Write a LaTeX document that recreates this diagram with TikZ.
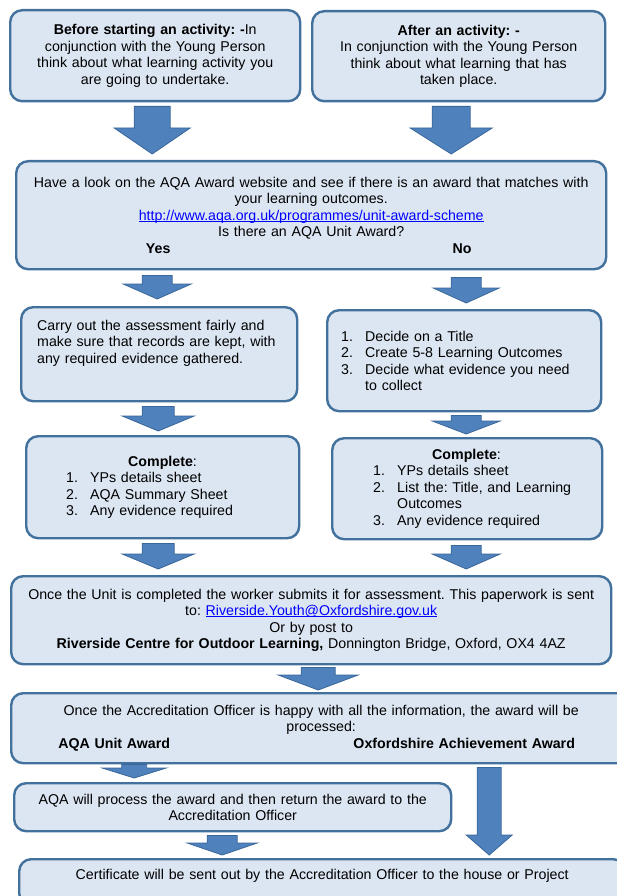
\documentclass[tikz,border=0pt]{standalone}
\usepackage{fontspec}
\setmainfont{Liberation Sans}
\usetikzlibrary{calc}
\frenchspacing

\definecolor{boxfill}{HTML}{DCE6F2}
\definecolor{boxline}{HTML}{41719C}
\definecolor{arrowfill}{HTML}{4F81BD}
\definecolor{arrowline}{HTML}{3A6799}
\definecolor{linkblue}{HTML}{0000FF}

\newlength{\numw}\setlength{\numw}{24pt}
\newsavebox{\linkbox}
\newcommand{\listnum}[1]{\makebox[\numw][l]{#1}}
\newcommand{\weblink}[1]{\leavevmode\sbox{\linkbox}{\color{linkblue}#1}{\color{linkblue}\rlap{\rule[-1.6pt]{\wd\linkbox}{0.8pt}}}\usebox{\linkbox}}
\newcommand{\blockarrow}[5]{%
  \filldraw[blockarr] let \p1=(#1), \p2=(#2) in
    (\x1-#3pt,\y1) -- (\x1+#3pt,\y1) -- (\x1+#3pt,\y2+#5pt) -- (\x1+#4pt,\y2+#5pt)
    -- (\x1,\y2) -- (\x1-#4pt,\y2+#5pt) -- (\x1-#3pt,\y2+#5pt) -- cycle;}

\tikzset{
  flowbox/.style={draw=boxline, fill=boxfill, line width=2.4pt, rounded corners=12pt,
    anchor=north west, inner xsep=6pt, inner ysep=2pt, align=center,
    font=\fontsize{14.2}{16.5}\selectfont},
  blockarr/.style={fill=arrowfill, draw=arrowline, line width=0.8pt, line join=miter}
}

\begin{document}
\begin{tikzpicture}[x=1pt,y=-1pt]
            \fill[white] (0,0) rectangle (616,896);
            \useasboundingbox (0,0) rectangle (616,896);

            \node[flowbox, minimum width=290pt, minimum height=91pt, text width=278pt] (before) at (9,9)
                {\textbf{Before starting an activity: -}In\\ conjunction with the Young Person\\ think about what learning activity you\\ are going to undertake.};
            \node[flowbox, minimum width=293pt, minimum height=90pt, text width=281pt] (after) at (311,10)
                {\textbf{After an activity: -}\\ In conjunction with the Young Person\\ think about what learning that has\\ taken place.};
            \node[flowbox, minimum width=590pt, minimum height=108pt, text width=578pt] (check) at (15,160)
                {Have a look on the AQA Award website and see if there is an award that matches with\\ your learning outcomes.\\
                 \weblink{http://www.aqa.org.uk/programmes/unit-award-scheme}\\ Is there an AQA Unit Award?\\
                 \makebox[578pt][l]{\hspace*{136pt}\makebox[0pt]{\textbf{Yes}}\hspace*{304pt}\makebox[0pt]{\textbf{No}}}};

            \node[flowbox, align=left, inner xsep=16pt, minimum width=276pt, minimum height=94pt, text width=244pt] (assess) at (20,306)
                {Carry out the assessment fairly and\\ make sure that records are kept, with\\ any required evidence gathered.\\[9pt]\mbox{}};
            \node[flowbox, align=left, inner xsep=14pt, minimum width=274pt, minimum height=101pt, text width=246pt] (plan) at (326,309)
                {\listnum{1.}Decide on a Title\\ \listnum{2.}Create 5-8 Learning Outcomes\\
                 \listnum{3.}Decide what evidence you need\\ \hspace*{\numw}to collect};

            \node[flowbox, align=left, minimum width=273pt, minimum height=102pt, text width=261pt] (compL) at (25,435)
                {\hspace*{96pt}\textbf{Complete}:\\ \hspace*{34pt}\listnum{1.}YPs details sheet\\
                 \hspace*{34pt}\listnum{2.}AQA Summary Sheet\\ \hspace*{34pt}\listnum{3.}Any evidence required};
            \node[flowbox, align=left, minimum width=270pt, minimum height=101pt, text width=258pt] (compR) at (331,437)
                {\hspace*{94pt}\textbf{Complete}:\\ \hspace*{35pt}\listnum{1.}YPs details sheet\\
                 \hspace*{35pt}\listnum{2.}List the: Title, and Learning\\ \hspace*{35pt}\hspace*{\numw}Outcomes\\
                 \hspace*{35pt}\listnum{3.}Any evidence required};

            \node[flowbox, minimum width=600pt, minimum height=88pt, text width=588pt] (submit) at (10,575)
                {Once the Unit is completed the worker submits it for assessment. This paperwork is sent\\
                 to: \weblink{Riverside.Youth@Oxfordshire.gov.uk}\\ Or by post to\\
                 \textbf{Riverside Centre for Outdoor Learning,} Donnington Bridge, Oxford, OX4 4AZ};
            \node[flowbox, minimum width=620pt, minimum height=70pt, text width=608pt] (process) at (10,692)
                {Once the Accreditation Officer is happy with all the information, the award will be\\ processed:\\
                 \makebox[608pt][l]{\hspace*{97pt}\makebox[0pt]{\textbf{AQA Unit Award}}\hspace*{350pt}\makebox[0pt]{\textbf{Oxfordshire Achievement Award}}}};
            \node[flowbox, minimum width=437pt, minimum height=48pt, text width=425pt] (aqa) at (13,782)
                {AQA will process the award and then return the award to the\\ Accreditation Officer};
            \node[flowbox, minimum width=606pt, minimum height=46pt, text width=594pt] (cert) at (18,858)
                {Certificate will be sent out by the Accreditation Officer to the house or Project\\ \mbox{}};

            \coordinate (a1s) at ($(before.south)+(-3,4)$);
            \coordinate (a1e) at ($(a1s |- check.north)+(0,-6)$);
            \coordinate (a2s) at ($(after.south)+(-7.5,4)$);
            \coordinate (a2e) at ($(a2s |- check.north)+(0,-6)$);
            \coordinate (a3s) at ($(check.south)+(-154,5)$);
            \coordinate (a3e) at ($(a3s |- assess.north)+(0,-7)$);
            \coordinate (a4s) at ($(check.south)+(155,7)$);
            \coordinate (a4e) at ($(a4s |- plan.north)+(0,-6)$);
            \coordinate (a5s) at ($(assess.south)+(-1,4)$);
            \coordinate (a5e) at ($(a5s |- compL.north)+(0,-4)$);
            \coordinate (a6s) at ($(plan.south)+(2,3)$);
            \coordinate (a6e) at ($(a6s |- compR.north)+(0,-3)$);
            \coordinate (a7s) at ($(compL.south)+(-4.5,4)$);
            \coordinate (a7e) at ($(a7s |- submit.north)+(0,-6)$);
            \coordinate (a8s) at ($(compR.south)+(-1,5)$);
            \coordinate (a8e) at ($(a8s |- submit.north)+(0,-6)$);
            \coordinate (a9s) at ($(submit.south)+(7,2)$);
            \coordinate (a9e) at ($(a9s |- process.north)+(0,-2)$);
            \coordinate (a10s) at ($(process.south)+(-187,0)$);
            \coordinate (a10e) at ($(a10s |- aqa.north)+(0,-4)$);
            \coordinate (a11s) at ($(process.south)+(168,3)$);
            \coordinate (a11e) at ($(a11s |- cert.north)+(0,-3)$);
            \coordinate (a12s) at ($(aqa.south)+(-10.5,3)$);
            \coordinate (a12e) at ($(a12s |- cert.north)+(0,-3)$);

            \foreach \i/\sh/\hd/\hl in {1/18/38/26, 2/19/41/26, 3/15/34/15, 4/15/33/15, 5/16/36/15, 6/15/34/13,
                                        7/16/36/15, 8/15/34/15, 9/17/40/15, 10/12.5/32/10, 11/12/23/20, 12/15/35/12}
                \blockarrow{a\i s}{a\i e}{\sh}{\hd}{\hl};
        \end{tikzpicture}
\end{document}
